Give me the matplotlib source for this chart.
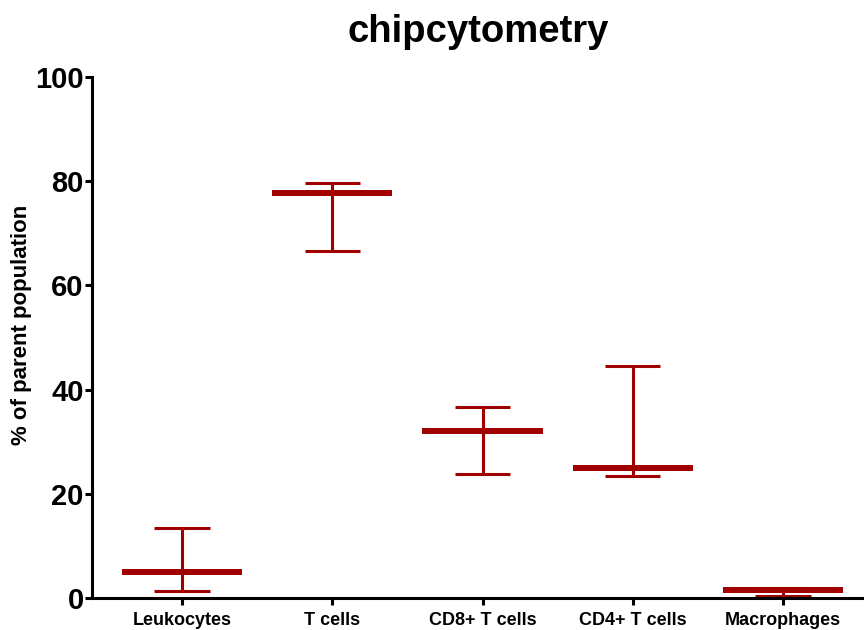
import matplotlib
matplotlib.use("Agg")
import matplotlib.pyplot as plt

plt.rcParams['font.family'] = ['Liberation Sans', 'DejaVu Sans']

categories = ["Leukocytes", "T cells", "CD8+ T cells", "CD4+ T cells", "Macrophages"]
medians = [5.0, 77.7, 32.1, 25.0, 1.5]
maxima = [13.5, 79.6, 36.7, 44.6, 2.0]
minima = [1.4, 66.6, 23.8, 23.5, 0.3]
yticks = [0, 20, 40, 60, 80, 100]

color = "#a00000"

fig = plt.figure(figsize=(8.64, 6.3), dpi=100)
ax = fig.add_axes([0.1065, 0.0508, 0.8935, 0.8272])

med_half = 0.4
cap_half = 0.185
for i, (m, hi, lo) in enumerate(zip(medians, maxima, minima)):
    ax.plot([i, i], [lo, hi], color=color, lw=2.2, solid_capstyle='butt', zorder=2)
    ax.plot([i - cap_half, i + cap_half], [hi, hi], color=color, lw=2.2, solid_capstyle='butt', zorder=2)
    ax.plot([i - cap_half, i + cap_half], [lo, lo], color=color, lw=2.2, solid_capstyle='butt', zorder=2)
    ax.plot([i - med_half, i + med_half], [m, m], color=color, lw=4.3, solid_capstyle='butt', zorder=3)

ax.set_xlim(-0.6, 4.54)
ax.set_ylim(0, 100)
ax.set_xticks(range(len(categories)))
ax.set_xticklabels(categories, fontsize=13, fontweight='bold')
ax.set_yticks(yticks)
ax.set_yticklabels([str(t) for t in yticks], fontsize=21, fontweight='bold')
ax.set_ylabel("% of parent population", fontsize=16, fontweight='bold')
ax.yaxis.set_label_coords(-0.078, 0.525)
ax.set_title("chipcytometry", fontsize=27.5, fontweight='bold', pad=25)

for side in ['top', 'right']:
    ax.spines[side].set_visible(False)
for side in ['left', 'bottom']:
    ax.spines[side].set_linewidth(2.2)
    ax.spines[side].set_color('black')
ax.tick_params(axis='y', direction='out', length=5, width=2.2, pad=1)
ax.tick_params(axis='x', direction='out', length=5, width=2.2, pad=5)

fig.savefig("out.png", dpi=100)
